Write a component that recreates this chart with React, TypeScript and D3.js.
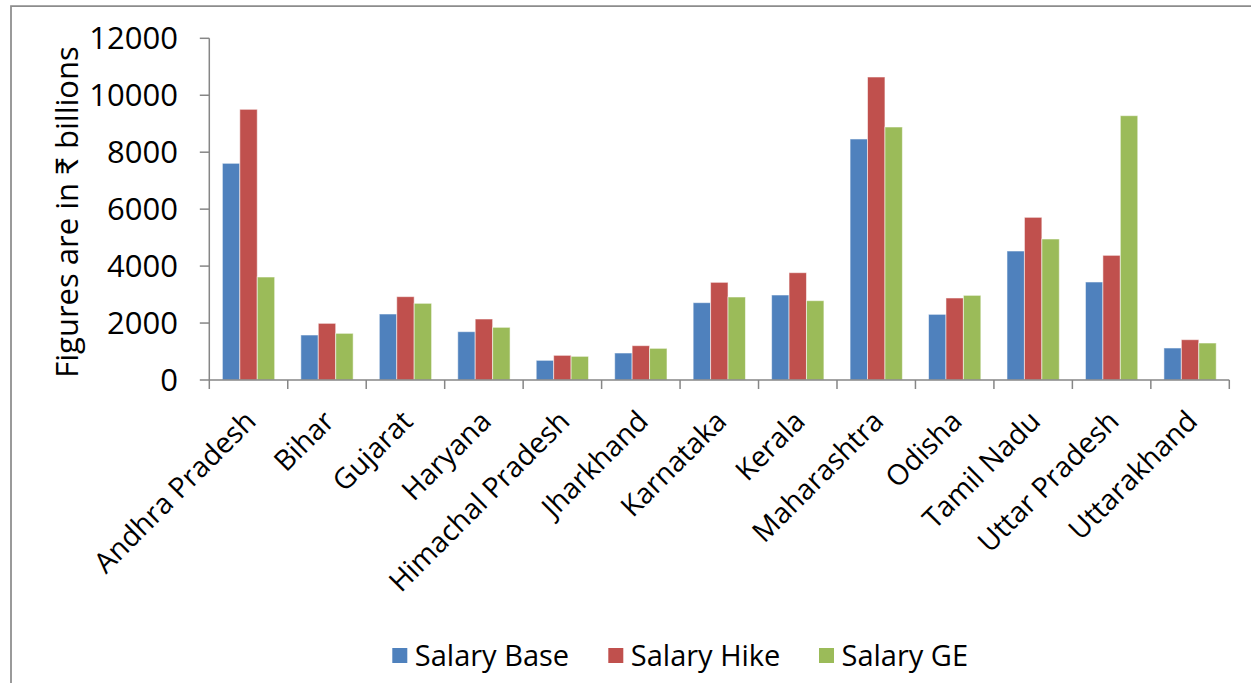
import React from "react";
import * as d3 from "d3";

const categories = [
  "Andhra Pradesh", "Bihar", "Gujarat", "Haryana", "Himachal Pradesh", "Jharkhand",
  "Karnataka", "Kerala", "Maharashtra", "Odisha", "Tamil Nadu", "Uttar Pradesh", "Uttarakhand",
];
const seriesNames = ["Salary Base", "Salary Hike", "Salary GE"];
const salaryBase = [7610, 1580, 2318, 1697, 691, 948, 2716, 2985, 8464, 2306, 4530, 3442, 1124];
const salaryHike = [9506, 1990, 2927, 2142, 866, 1206, 3430, 3769, 10641, 2880, 5713, 4378, 1416];
const salaryGE = [3617, 1639, 2693, 1850, 831, 1112, 2915, 2786, 8885, 2973, 4952, 9283, 1299];
const seriesColors = ["#4F81BD", "#C0504D", "#9BBB59"];
const yTicks = [0, 2000, 4000, 6000, 8000, 10000, 12000];
const yTitle = "Figures are in ₹ billions";

const W = 1251;
const H = 683;
const FONT = "'Open Sans', Lato, sans-serif";

export default function App() {
  const left = 209.3, right = 1229.3, top = 38.3, bottom = 380;
  const x0 = d3.scaleBand<string>().domain(categories).range([left, right]).paddingInner(1 / 3).paddingOuter(1 / 6);
  const x1 = d3.scaleBand<string>().domain(seriesNames).range([0, x0.bandwidth()]);
  const y = d3.scaleLinear().domain([0, 12000]).range([bottom, top]);
  const allSeries = [salaryBase, salaryHike, salaryGE];
  const halfGap = (x0.step() - x0.bandwidth()) / 2;
  const boundaries = categories.map((c) => (x0(c) as number) - halfGap);
  boundaries.push((x0(categories[categories.length - 1]) as number) + x0.bandwidth() + halfGap);
  const axisColor = "#868686";
  const legendX = [392.3, 608.3, 819];

  return (
    <svg width={W} height={H} style={{ position: "absolute", left: 0, top: 0, background: "#fff" }}>
      <rect x={0} y={0} width={W} height={H} fill="#fff" />
      {/* outer chart border */}
      <path d={`M11,${H + 2} L11,6 L${W + 2},6`} fill="none" stroke="#8c8c8c" strokeWidth={1.75} />

      {/* bars */}
      {categories.map((c, i) => (
        <g key={c} transform={`translate(${x0(c)},0)`}>
          {allSeries.map((s, j) => (
            <rect
              key={j}
              x={x1(seriesNames[j])}
              y={y(s[i])}
              width={x1.bandwidth()}
              height={y(0) - y(s[i])}
              fill={seriesColors[j]}
              stroke="#ffffff"
              strokeOpacity={0.55}
              strokeWidth={1}
            />
          ))}
        </g>
      ))}

      {/* y axis */}
      <line x1={left} x2={left} y1={y(12000)} y2={y(0)} stroke={axisColor} strokeWidth={1.5} />
      {yTicks.map((t) => (
        <g key={t}>
          <line x1={left - 9.5} x2={left} y1={y(t)} y2={y(t)} stroke={axisColor} strokeWidth={1.5} />
          <text x={178} y={y(t)} dy="0.36em" textAnchor="end" fontFamily={FONT} fontSize={31} fill="#000">
            {t}
          </text>
        </g>
      ))}

      {/* x axis */}
      <line x1={left} x2={right} y1={bottom} y2={bottom} stroke={axisColor} strokeWidth={1.5} />
      {boundaries.map((b, i) => (
        <line key={i} x1={b} x2={b} y1={bottom} y2={bottom + 9} stroke={axisColor} strokeWidth={1.5} />
      ))}
      {categories.map((c) => {
        const cx = (x0(c) as number) + x0.bandwidth() / 2;
        return (
          <text
            key={c}
            transform={`translate(${cx + 9},${bottom + 43}) rotate(-45)`}
            textAnchor="end"
            fontFamily={FONT}
            fontSize={28.5}
            fill="#000"
          >
            {c}
          </text>
        );
      })}

      {/* y title */}
      <text
        transform={`translate(78,212) rotate(-90)`}
        textAnchor="middle"
        fontFamily={FONT}
        fontSize={31}
        fill="#000"
      >
        {yTitle}
      </text>

      {/* legend */}
      {seriesNames.map((n, j) => (
        <g key={n} transform={`translate(${legendX[j]},648)`}>
          <rect x={0} y={0} width={15} height={15} fill={seriesColors[j]} />
          <text x={22.5} y={18} fontFamily={FONT} fontSize={29} fill="#000">
            {n}
          </text>
        </g>
      ))}
    </svg>
  );
}
